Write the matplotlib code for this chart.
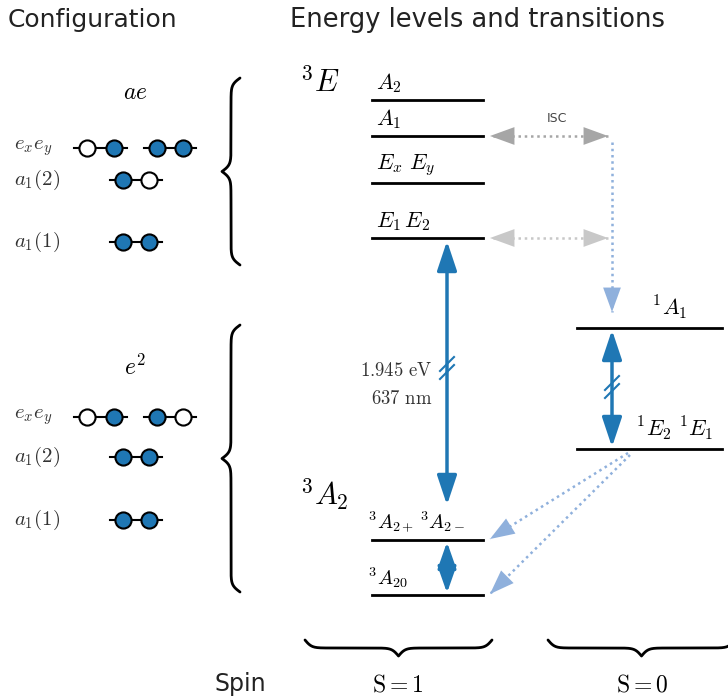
import numpy as np
import matplotlib.pyplot as plt

plt.rcParams['mathtext.fontset'] = 'cm'
plt.rcParams['font.family'] = ['DejaVu Sans']

BLUE = '#1f77b4'
LIGHT = '#8fb0dc'
GREY = '#a6a6a6'
LGREY = '#c8c8c8'

# configuration occupations (1 = filled, 0 = empty), rows: e_x e_y, a1(2), a1(1)
ae_exey = [[0, 1], [1, 1]]
ae_a12 = [1, 0]
ae_a11 = [1, 1]
e2_exey = [[0, 1], [1, 0]]
e2_a12 = [1, 1]
e2_a11 = [1, 1]
row_labels = [r'$e_xe_y$', r'$a_1(2)$', r'$a_1(1)$']

# energy levels (names, vertical positions on the drawing)
triplet_es = [r'$A_2$', r'$A_1$', r'$E_x\ E_y$', r'$E_1\,E_2$']
triplet_es_y = [100, 136, 183, 238]
triplet_gs = [r'$^3A_{2+}\,^3A_{2-}$', r'$^3A_{20}$']
triplet_gs_y = [540, 595]
singlet = [r'$^1A_1$', r'$^1E_2\ ^1E_1$']
singlet_y = [328, 449]
zpl_ev = 1.945
zpl_nm = 637

fig = plt.figure(figsize=(7.28, 7.0), dpi=100)
ax = fig.add_axes([0, 0, 1, 1])
ax.set_xlim(0, 728)
ax.set_ylim(700, 0)
ax.axis('off')


def brace(x0, y0, y1, w, vertical=True, k=0.3):
    L = abs(y1 - y0)
    half = np.linspace(0, L / 2, 200)
    f = 1 / (1 + np.exp(-k * (half - half[0]))) + 1 / (1 + np.exp(-k * (half - half[-1])))
    f = f - 0.5
    f = np.concatenate([f, f[-2::-1]])
    s = np.linspace(0, L, len(f)) + min(y0, y1)
    if vertical:
        ax.plot(x0 - w * f, s, color='black', lw=2, solid_capstyle='round')
    else:
        ax.plot(s, x0 + w * f, color='black', lw=2, solid_capstyle='round')


def pair(xl, xr, y, occ):
    xs = np.linspace(xl + 13, xr - 13, 2)
    ax.plot([xl, xr], [y, y], color='black', lw=1.5, zorder=1)
    for x, o in zip(xs, occ):
        ax.scatter(x, y, s=135, facecolor=BLUE if o else 'white',
                   edgecolor='black', linewidth=1.5, zorder=2)


def config(title, ty, rows_y, exey, a12, a11):
    ax.text(135, ty, title, fontsize=17, ha='center', va='center')
    for lab, y in zip(row_labels, rows_y):
        ax.text(14, y, lab, fontsize=15, ha='left', va='center', color='#333333')
    pair(74, 127, rows_y[0], exey[0])
    pair(144, 196, rows_y[0], exey[1])
    pair(110, 162, rows_y[1], a12)
    pair(110, 162, rows_y[2], a11)


ax.text(8, 20, 'Configuration', fontsize=18, ha='left', va='center', color='#222222')
ax.text(290, 20, 'Energy levels and transitions', fontsize=18.5, ha='left', va='center',
        color='#222222')

config(r'$ae$', 92, [148, 180, 242], ae_exey, ae_a12, ae_a11)
config(r'$e^2$', 367, [417, 457, 520], e2_exey, e2_a12, e2_a11)
brace(240, 78, 265, 18)
brace(240, 325, 592, 18)

# triplet excited state
ax.text(300, 82, r'$^3E$', fontsize=22, ha='left', va='center')
for lab, y in zip(triplet_es, triplet_es_y):
    ax.plot([372, 483], [y, y], color='black', lw=2)
    ax.text(376, y - 5, lab, fontsize=16, ha='left', va='bottom')

ax.text(300, 495, r'$^3A_2$', fontsize=22, ha='left', va='center')
for lab, y in zip(triplet_gs, triplet_gs_y):
    ax.plot([372, 483], [y, y], color='black', lw=2)
    ax.text(368, y - 5, lab, fontsize=14.5, ha='left', va='bottom')

for lab, y, lx in zip(singlet, singlet_y, [652, 636]):
    ax.plot([577, 722], [y, y], color='black', lw=2)
    ax.text(lx, y - 7, lab, fontsize=16, ha='left', va='bottom')


def darrow(x, y0, y1, hl=0.9, hw=0.3):
    ax.annotate('', xy=(x, y0), xytext=(x, y1),
                arrowprops=dict(arrowstyle=f'<|-|>,head_length={hl},head_width={hw}',
                                color=BLUE, lw=2.5, mutation_scale=20,
                                shrinkA=0, shrinkB=0))


def breakmark(x, y):
    for d in (-4, 4):
        ax.plot([x - 7, x + 7], [y + d + 7, y + d - 7], color=BLUE, lw=1.5)


darrow(447, triplet_es_y[3] + 3, 505)
breakmark(447, 368)
ax.text(432, 370, r'$\mathrm{%.3f\ eV}$' % zpl_ev, fontsize=13.5, ha='right', va='center',
        color='#333333')
ax.text(432, 398, r'$\mathrm{%d\ nm}$' % zpl_nm, fontsize=13.5, ha='right', va='center',
        color='#333333')

darrow(447, triplet_gs_y[0] + 2, triplet_gs_y[1] - 2, hl=0.8, hw=0.28)
darrow(612, singlet_y[0] + 2, singlet_y[1] - 2)
breakmark(612, 387)


def dotted_arrow(p0, p1, color, both=False, ms=16):
    ax.plot([p0[0], p1[0]], [p0[1], p1[1]], color=color, lw=1.8, ls=(0, (1, 1.5)))
    v = np.array(p1, float) - np.array(p0, float)
    v = v / np.hypot(*v)
    ends = [(p1, v)] + ([(p0, -v)] if both else [])
    for tip, d in ends:
        ax.annotate('', xy=tip, xytext=(tip[0] - d[0] * 6, tip[1] - d[1] * 6),
                    arrowprops=dict(arrowstyle='-|>,head_length=1.1,head_width=0.4',
                                    color=color, lw=0, mutation_scale=ms,
                                    shrinkA=0, shrinkB=0))


# intersystem crossing
dotted_arrow((608, 136), (490, 136), GREY, both=True)
ax.text(557, 118, 'ISC', fontsize=9, ha='center', va='center', color='#444444')
dotted_arrow((608, 238), (490, 238), LGREY, both=True)
dotted_arrow((612, 142), (612, 312), LIGHT)
dotted_arrow((628, 453), (490, 539), LIGHT)
dotted_arrow((630, 455), (490, 594), LIGHT)

# spin braces
brace(640, 305, 492, 16, vertical=False)
brace(640, 548, 735, 16, vertical=False)
ax.text(240, 684, 'Spin', fontsize=17, ha='center', va='center', color='#222222')
ax.text(398, 684, r'$\mathrm{S=1}$', fontsize=17, ha='center', va='center')
ax.text(642, 684, r'$\mathrm{S=0}$', fontsize=17, ha='center', va='center')

fig.savefig('out.png', dpi=100)
